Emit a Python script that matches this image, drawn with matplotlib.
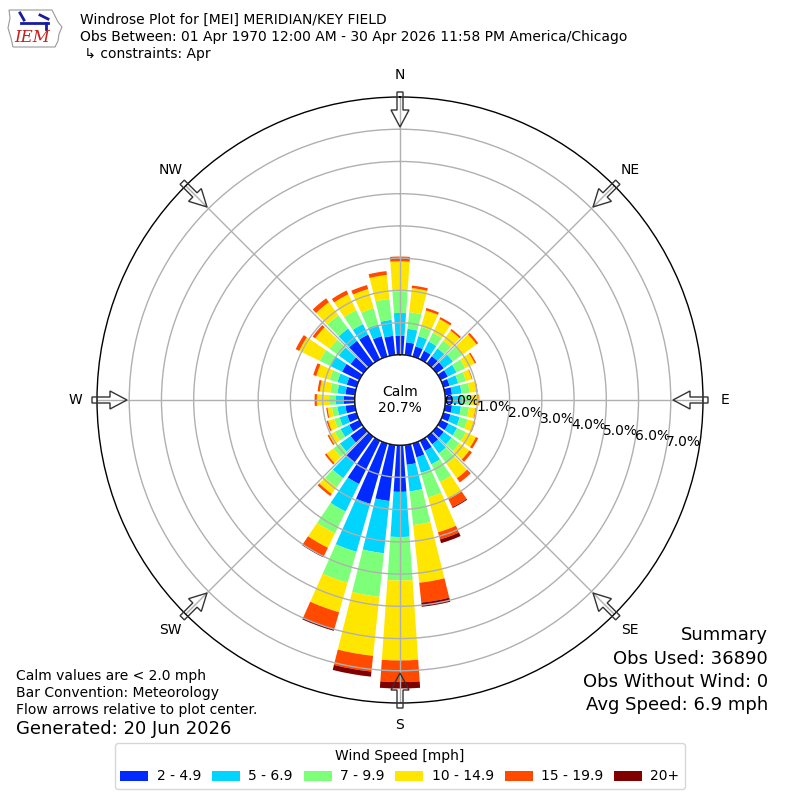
import numpy as np
import matplotlib
matplotlib.use("Agg")
import matplotlib.pyplot as plt
from matplotlib.patches import Patch, FancyArrow, Circle, Polygon
from matplotlib.lines import Line2D

# ---------------- data ----------------
directions = list(range(0, 360, 10))
speed_labels = ["2 - 4.9", "5 - 6.9", "7 - 9.9", "10 - 14.9", "15 - 19.9", "20+"]
speed_colors = ["#002aff", "#00d4ff", "#7dff7a", "#ffe600", "#ff4a00", "#800000"]

# frequency [%] per direction (0..350 by 10) for each speed bin
bin_2_5 = [0.60, 0.40, 0.33, 0.30, 0.28, 0.28, 0.25, 0.20, 0.22, 0.22, 0.22, 0.23,
           0.27, 0.28, 0.30, 0.36, 0.45, 0.62, 1.45, 1.75, 1.95, 1.50, 1.00, 0.50,
           0.35, 0.30, 0.30, 0.34, 0.30, 0.32, 0.60, 0.50, 0.87, 0.86, 0.66, 0.60]
bin_5_7 = [0.70, 0.42, 0.33, 0.32, 0.30, 0.35, 0.30, 0.28, 0.30, 0.30, 0.28, 0.30,
           0.30, 0.30, 0.35, 0.46, 0.50, 0.83, 1.40, 1.63, 1.55, 0.95, 0.60, 0.40,
           0.30, 0.25, 0.25, 0.26, 0.25, 0.30, 0.40, 0.45, 0.47, 0.36, 0.38, 0.50]
bin_7_10 = [0.67, 0.52, 0.30, 0.30, 0.30, 0.35, 0.30, 0.25, 0.25, 0.27, 0.25, 0.25,
            0.30, 0.30, 0.40, 0.61, 0.80, 1.05, 1.35, 1.36, 1.00, 0.75, 0.35, 0.25,
            0.20, 0.17, 0.17, 0.20, 0.22, 0.25, 0.37, 0.35, 0.51, 0.48, 0.52, 0.65]
bin_10_15 = [0.93, 0.75, 0.53, 0.47, 0.38, 0.55, 0.33, 0.19, 0.22, 0.25, 0.20, 0.22,
             0.35, 0.38, 0.55, 0.59, 1.12, 1.80, 2.48, 1.84, 0.95, 0.50, 0.25, 0.27,
             0.20, 0.20, 0.14, 0.38, 0.33, 0.43, 0.71, 0.55, 0.50, 0.55, 0.62, 0.75]
bin_15_20 = [0.15, 0.08, 0.08, 0.07, 0.06, 0.07, 0.05, 0.02, 0.03, 0.02, 0.02, 0.03,
             0.08, 0.10, 0.16, 0.28, 0.23, 0.62, 0.67, 0.49, 0.53, 0.30, 0.08, 0.06,
             0.05, 0.05, 0.04, 0.07, 0.07, 0.10, 0.12, 0.10, 0.15, 0.13, 0.13, 0.12]
bin_20_up = [0.00, 0.00, 0.00, 0.00, 0.00, 0.00, 0.00, 0.00, 0.00, 0.00, 0.00, 0.00,
             0.00, 0.00, 0.00, 0.03, 0.12, 0.13, 0.20, 0.16, 0.07, 0.03, 0.00, 0.00,
             0.00, 0.00, 0.00, 0.00, 0.00, 0.00, 0.00, 0.00, 0.00, 0.00, 0.00, 0.00]
speed_bins = [bin_2_5, bin_5_7, bin_7_10, bin_10_15, bin_15_20, bin_20_up]

calm_pct = 20.7
r_ticks = [0, 1, 2, 3, 4, 5, 6, 7]
compass = ["N", "NE", "E", "SE", "S", "SW", "W", "NW"]
compass_deg = [0, 45, 90, 135, 180, 225, 270, 315]

title_lines = ["Windrose Plot for [MEI] MERIDIAN/KEY FIELD",
               "Obs Between: 01 Apr 1970 12:00 AM - 30 Apr 2026 11:58 PM America/Chicago",
               " \u21b3 constraints: Apr"]
left_notes = ["Calm values are < 2.0 mph", "Bar Convention: Meteorology",
              "Flow arrows relative to plot center."]
generated = "Generated: 20 Jun 2026"
summary = ["Summary", "Obs Used: 36890", "Obs Without Wind: 0", "Avg Speed: 6.9 mph"]

# ---------------- figure ----------------
fig = plt.figure(figsize=(8, 8), dpi=100)
R = 303 / 800.0
ax = fig.add_axes([0.5 - R, 0.5 - R, 2 * R, 2 * R], projection="polar")
ax.set_theta_zero_location("N")
ax.set_theta_direction(-1)

theta = np.deg2rad(directions)
width = np.deg2rad(8)
base = np.zeros(len(directions))
for vals, col in zip(speed_bins, speed_colors):
    v = np.array(vals)
    ax.bar(theta, v, width=width, bottom=base, color=col, edgecolor="none",
           align="center", zorder=1)
    base = base + v

ax.set_ylim(0, 8.0)
ax.set_rorigin(-1.4)
ax.set_yticks(r_ticks)
ax.set_yticklabels([f"{t:.1f}%" for t in r_ticks], fontsize=10)
ax.set_rlabel_position(100.5)
ax.set_xticks(np.deg2rad(compass_deg))
ax.set_xticklabels([])
ax.grid(True, color="#b0b0b0", lw=1)
ax.spines["polar"].set_color("black")
ax.spines["polar"].set_linewidth(1)

calm_r = (1.4 / 9.4) * 0.5
ax.add_artist(Circle((0.5, 0.5), calm_r, transform=ax.transAxes, fc="white",
                     ec="black", lw=1, zorder=5))
ax.text(0.5, 0.5, f"Calm\n{calm_pct:.1f}%", transform=ax.transAxes, ha="center",
        va="center", fontsize=10, zorder=6)

# compass labels and arrows
for lab, d in zip(compass, compass_deg):
    a = np.deg2rad(d)
    ux, uy = np.sin(a), np.cos(a)
    fig.text(0.5 + ux * 325 / 800, 0.5 + uy * 325 / 800, lab, ha="center",
             va="center", fontsize=10)
    r0 = 308 / 800
    L = 35 / 800
    fig.add_artist(FancyArrow(0.5 + ux * r0, 0.5 + uy * r0, -ux * L, -uy * L,
                              width=6 / 800, head_width=18 / 800, head_length=17 / 800,
                              length_includes_head=True, fc="none", ec="#333333",
                              lw=1, transform=fig.transFigure, zorder=3))

# header
for i, t in enumerate(title_lines):
    fig.text(0.1, 1 - (20 + 17 * i) / 800, t, ha="left", va="center", fontsize=10)

# simple IEM logo
px = lambda x, y: (x / 800, 1 - y / 800)
outline = [px(9, 10), px(52, 10), px(55, 16), px(58, 22), px(62, 27), px(59, 34),
           px(58, 41), px(55, 47), px(13, 47), px(11, 38), px(8, 28), px(10, 18)]
fig.add_artist(Polygon(outline, closed=True, fc="none", ec="#999999", lw=0.8,
                       transform=fig.transFigure))
for (x0, y0, x1, y1) in [(21, 23, 48, 23), (20, 13, 24, 20), (40, 15, 48, 19), (46, 23, 46, 29)]:
    fig.add_artist(Line2D([x0 / 800, x1 / 800], [1 - y0 / 800, 1 - y1 / 800],
                          color="#1a1aa0", lw=2, transform=fig.transFigure))
fig.text(14 / 800, 1 - 38 / 800, "IEM", ha="left", va="center", fontsize=12,
         color="#c81e1e", style="italic", family="DejaVu Serif")

# footers
for i, t in enumerate(left_notes):
    fig.text(16 / 800, 1 - (676 + 17 * i) / 800, t, ha="left", va="center", fontsize=10)
fig.text(16 / 800, 1 - 729 / 800, generated, ha="left", va="center", fontsize=13)
for i, t in enumerate(summary):
    fig.text(768 / 800, 1 - (635 + 23.5 * i) / 800, t, ha="right", va="center", fontsize=13)

handles = [Patch(fc=c, ec="none") for c in speed_colors]
fig.legend(handles, speed_labels, loc="lower center", bbox_to_anchor=(0.5, 0.005),
           ncol=6, title="Wind Speed [mph]", fontsize=10, title_fontsize=10,
           columnspacing=0.8, handletextpad=0.6, frameon=True, edgecolor="#cccccc")

fig.savefig("out.png", dpi=100)
